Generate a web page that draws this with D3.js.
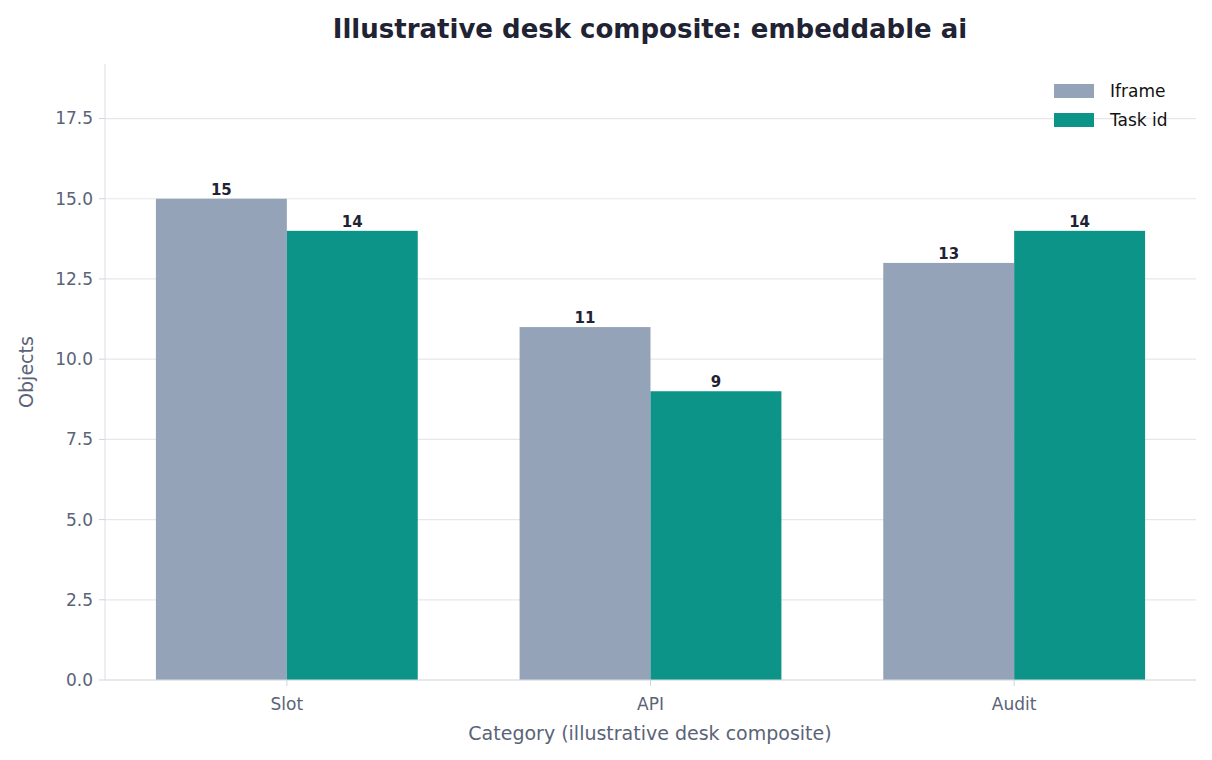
<!DOCTYPE html>
<html><head><meta charset="utf-8">
<script src="https://cdn.jsdelivr.net/npm/d3@7"></script>
<style>body{margin:0;background:#fff}text{font-family:"DejaVu Sans",sans-serif}</style>
</head><body><svg id="c" width="1212" height="760"></svg>
<script>
const categories = ["Slot","API","Audit"];
const seriesNames = ["Iframe","Task id"];
const iframe = [15,11,13];
const taskId = [14,9,14];
const yTicks = [0,2.5,5,7.5,10,12.5,15,17.5];
const colors = ["#94a3b8","#0d9488"];
const series=[iframe,taskId];
const svg=d3.select("#c");
const L=105,R=1196,T=64,B=680;
const x=d3.scaleLinear().domain([-0.5,2.5]).range([L,R]);
const y=d3.scaleLinear().domain([0,19.2]).range([B,T]);
const w=0.36;
svg.append("text").attr("x",650).attr("y",38).attr("text-anchor","middle").attr("font-size",26).attr("font-weight","bold").attr("fill","#1f2333").text("Illustrative desk composite: embeddable ai");
const g=svg.append("g");
yTicks.forEach(t=>{
 g.append("line").attr("x1",L).attr("x2",R).attr("y1",y(t)).attr("y2",y(t)).attr("stroke","#e5e7eb").attr("stroke-width",1.2);
 g.append("line").attr("x1",L-6).attr("x2",L).attr("y1",y(t)).attr("y2",y(t)).attr("stroke","#cbd5e1");
 g.append("text").attr("x",L-12).attr("y",y(t)).attr("dy","0.35em").attr("text-anchor","end").attr("font-size",17).attr("fill","#5a6378").text(t.toFixed(1));
});
series.forEach((s,si)=>{
 s.forEach((v,i)=>{
  const x0=x(i+(si===0?-w:0));
  g.append("rect").attr("x",x0).attr("y",y(v)).attr("width",x(i+w)-x(i)).attr("height",y(0)-y(v)).attr("fill",colors[si]);
  g.append("text").attr("x",x0+(x(i+w)-x(i))/2).attr("y",y(v)-4).attr("text-anchor","middle").attr("font-size",15).attr("font-weight","bold").attr("fill","#1f2333").text(v);
 });
});
g.append("line").attr("x1",L).attr("x2",L).attr("y1",T).attr("y2",B).attr("stroke","#d9dde3");
g.append("line").attr("x1",L).attr("x2",R).attr("y1",B).attr("y2",B).attr("stroke","#d9dde3");
categories.forEach((c,i)=>{
 g.append("line").attr("x1",x(i)).attr("x2",x(i)).attr("y1",B).attr("y2",B+6).attr("stroke","#cbd5e1");
 g.append("text").attr("x",x(i)).attr("y",B+30).attr("text-anchor","middle").attr("font-size",17).attr("fill","#5a6378").text(c);
});
svg.append("text").attr("x",650).attr("y",740).attr("text-anchor","middle").attr("font-size",19).attr("fill","#5a6378").text("Category (illustrative desk composite)");
svg.append("text").attr("transform","translate(33,372) rotate(-90)").attr("text-anchor","middle").attr("font-size",19).attr("fill","#5a6378").text("Objects");
seriesNames.forEach((n,i)=>{
 svg.append("rect").attr("x",1054).attr("y",84+i*29).attr("width",40).attr("height",14).attr("fill",colors[i]);
 svg.append("text").attr("x",1110).attr("y",91+i*29).attr("dy","0.35em").attr("font-size",17).attr("fill","#111").text(n);
});
</script></body></html>
